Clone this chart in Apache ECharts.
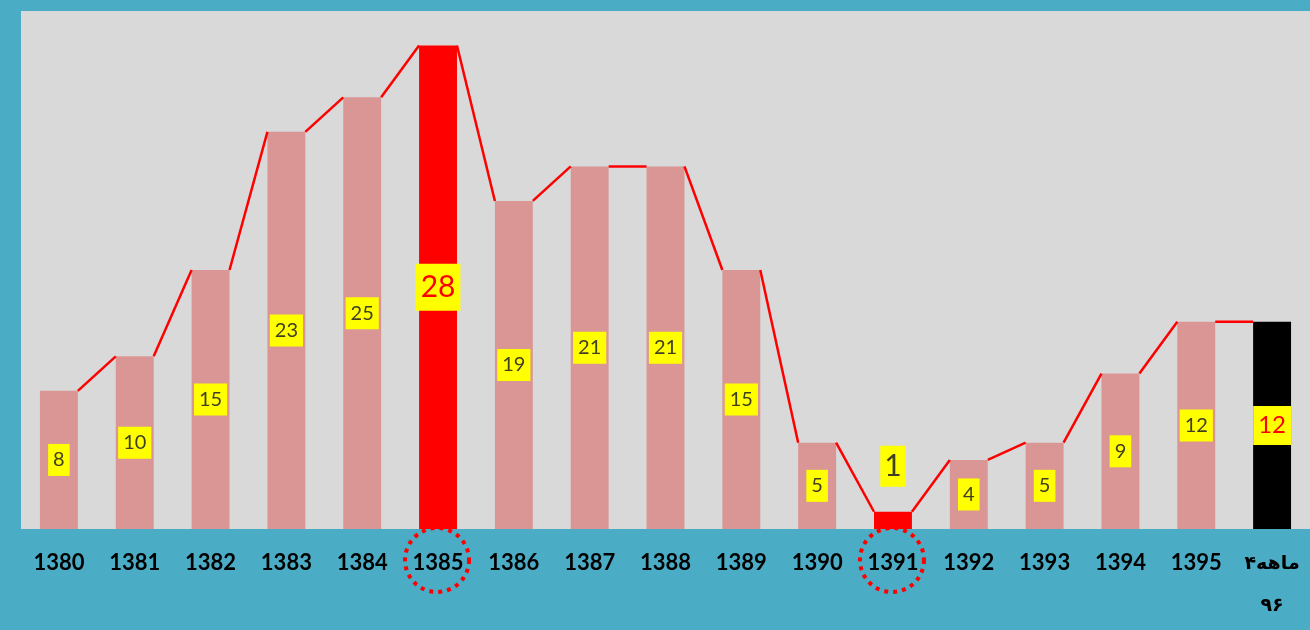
<!DOCTYPE html>
<html>
<head>
<meta charset="utf-8">
<script src="https://cdn.jsdelivr.net/npm/echarts@6/dist/echarts.min.js"></script>
<style>
    html, body { margin: 0; padding: 0; }
    #chart { width: 1310px; height: 630px; }
</style>
</head>
<body>
<div id="chart"></div>
<script>
// years on the axis (last one: first 4 months of 96)
var categories = ["1380", "1381", "1382", "1383", "1384", "1385", "1386", "1387", "1388",
    "1389", "1390", "1391", "1392", "1393", "1394", "1395", "۴ماهه\n۹۶"];
var values = [8, 10, 15, 23, 25, 28, 19, 21, 21, 15, 5, 1, 4, 5, 9, 12, 12];
var redBars = [5, 11];     // highlighted years
var blackBars = [16];      // partial year
var circled = [5, 11];     // dotted rings under axis labels

var fontFamily = "Lato, 'DejaVu Sans', sans-serif";

var barData = values.map(function (v, i) {
    var item = { value: v };
    if (redBars.indexOf(i) > -1) item.itemStyle = { color: "#ff0000" };
    if (blackBars.indexOf(i) > -1) item.itemStyle = { color: "#000000" };
    if (i === 5) {
        item.label = { fontSize: 30, lineHeight: 30, color: "#ff0000", padding: [9, 5, 8, 5] };
    } else if (i === 11) {
        item.label = { position: "top", distance: 25, fontSize: 30, lineHeight: 30, padding: [6, 4, 5, 4] };
    } else if (i === 16) {
        item.label = { fontSize: 24, lineHeight: 24, color: "#ff0000", padding: [8, 5, 7, 5] };
    }
    return item;
});

// connector from top-right of one bar to top-left of the next
var linkData = [];
for (var i = 0; i < values.length - 1; i++) {
    linkData.push([i, values[i], values[i + 1]]);
}

var chart = echarts.init(document.getElementById("chart"));
chart.setOption({
    backgroundColor: "#4bacc6",
    animation: false,
    grid: {
        left: 21,
        right: -1,
        top: 11,
        bottom: 101,
        show: true,
        backgroundColor: "#d9d9d9",
        borderWidth: 0
    },
    xAxis: {
        type: "category",
        data: categories,
        axisLine: { show: false },
        axisTick: { show: false },
        axisLabel: {
            interval: 0,
            margin: 13,
            fontSize: 22,
            fontWeight: "bold",
            fontFamily: fontFamily,
            color: "#000",
            lineHeight: 42,
            formatter: function (val, idx) {
                // persian label is a bit smaller
                return idx === categories.length - 1 ? "{fa|" + val.split("\n").join("}\n{fa|") + "}" : val;
            },
            rich: {
                fa: { fontSize: 19, fontWeight: "bold", color: "#000", lineHeight: 42, fontFamily: fontFamily }
            }
        }
    },
    yAxis: {
        type: "value",
        min: 0,
        max: 30,
        show: false,
        splitLine: { show: false }
    },
    series: [
        {
            type: "bar",
            data: barData,
            barWidth: "50%",
            itemStyle: { color: "#d99694" },
            label: {
                show: true,
                position: "inside",
                fontSize: 20,
                fontFamily: fontFamily,
                color: "#404020",
                backgroundColor: "#ffff00",
                padding: [6, 5, 6, 5],
                lineHeight: 20
            },
            z: 2
        },
        {
            type: "custom",
            data: linkData,
            z: 3,
            renderItem: function (params, api) {
                var half = api.size([1, 0])[0] * 0.25;
                var p1 = api.coord([api.value(0), api.value(1)]);
                var p2 = api.coord([api.value(0) + 1, api.value(2)]);
                return {
                    type: "line",
                    shape: { x1: p1[0] + half, y1: p1[1], x2: p2[0] - half, y2: p2[1] },
                    style: { stroke: "#ff0000", lineWidth: 2.5 }
                };
            }
        }
    ]
});

var baseY = chart.convertToPixel({ yAxisIndex: 0 }, 0);
chart.setOption({
    graphic: circled.map(function (idx) {
        return {
            type: "circle",
            shape: {
                cx: chart.convertToPixel({ xAxisIndex: 0 }, idx) - 1,
                cy: baseY + 31,
                r: 32
            },
            style: { fill: null, stroke: "#ff0000", lineWidth: 4, lineDash: [4, 5] },
            z: 10
        };
    })
});
</script>
</body>
</html>
